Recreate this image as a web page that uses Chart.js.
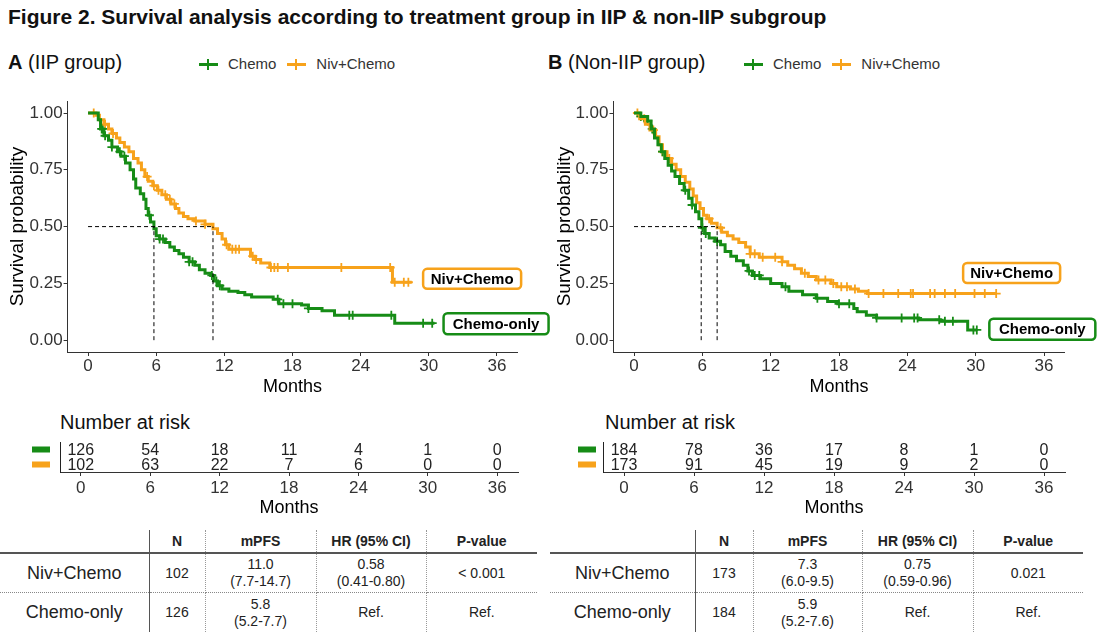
<!DOCTYPE html>
<html>
<head>
<meta charset="utf-8">
<script src="https://cdn.jsdelivr.net/npm/chart.js@4.4.1/dist/chart.umd.min.js"></script>
<style>
  body { margin: 0; width: 1100px; height: 636px; background: #fff; position: relative; overflow: hidden;
         font-family: "Liberation Sans", Arial, sans-serif; color: #111; }
  .abs { position: absolute; white-space: nowrap; }
  .fig-title { left: 8px; top: 4px; font-size: 21px; line-height: 26px; font-weight: bold; }
  .panel { font-size: 20px; line-height: 24px; }
  .legend { font-size: 15px; line-height: 18px; color: #333; }
  .key { display: inline-block; position: relative; width: 19px; height: 3px; vertical-align: middle; margin-right: 10px; top: -1px; }
  .key::after { content: ''; position: absolute; left: 8px; top: -4px; width: 2px; height: 11px; background: inherit; }
  .risk-title { font-size: 20px; line-height: 24px; }
  .box { position: absolute; }
  table { border-collapse: collapse; table-layout: fixed; position: absolute; color: #222; }
  td, th { text-align: center; padding: 0; font-size: 14px; line-height: 17px; }
  th { font-size: 14px; height: 22px; border-bottom: 2px solid #555; vertical-align: middle; }
  td.lab { font-size: 18px; }
  tr.r1 td { height: 38px; border-bottom: 1px dotted #888; }
  tr.r2 td { height: 39px; }
  .sep { border-right: 1.5px solid #555; }
  .dot { border-right: 1px dotted #999; }
</style>
</head>
<body>
<div class="abs fig-title">Figure 2. Survival analysis according to treatment group in IIP &amp; non-IIP subgroup</div>

<div class="abs panel" style="left:8px; top:50px;"><b>A</b> (IIP group)</div>
<div class="abs legend" style="left:199px; top:55px;"><span class="key" style="background:#168c16"></span>Chemo<span class="key" style="background:#f7a21b; margin-left:11px"></span>Niv+Chemo</div>
<div class="abs panel" style="left:548px; top:50px;"><b>B</b> (Non-IIP group)</div>
<div class="abs legend" style="left:744px; top:55px;"><span class="key" style="background:#168c16"></span>Chemo<span class="key" style="background:#f7a21b; margin-left:11px"></span>Niv+Chemo</div>

<div class="box" style="left:0; top:90px; width:550px; height:310px;"><canvas id="km-a"></canvas></div>
<div class="box" style="left:550px; top:90px; width:550px; height:310px;"><canvas id="km-b"></canvas></div>

<div class="abs risk-title" style="left:60px; top:410px;">Number at risk</div>
<div class="abs risk-title" style="left:605px; top:410px;">Number at risk</div>
<div class="box" style="left:0; top:436px; width:550px; height:84px;"><canvas id="risk-a"></canvas></div>
<div class="box" style="left:550px; top:436px; width:550px; height:84px;"><canvas id="risk-b"></canvas></div>

<table id="tab-a" style="left:0; top:530px; width:537px;"></table>
<table id="tab-b" style="left:550px; top:530px; width:533px;"></table>

<script>
const COLOR_CHEMO = '#168c16';
const COLOR_NIV = '#f7a21b';

const monthTicks = [0, 6, 12, 18, 24, 30, 36];
const survTicks = [0, 0.25, 0.5, 0.75, 1];

// IIP group, Chemo
const iipChemoTime = [0, 0.9, 1.1, 1.4, 1.8, 2.1, 2.6, 2.9, 3.3, 3.7, 4.0, 4.2, 4.6, 4.9, 5.1, 5.3, 5.5, 5.8, 6.0, 6.3, 6.8, 7.2, 7.6, 8.0, 8.4, 8.9, 9.4, 9.8, 10.3, 10.8, 11.1, 11.4, 11.8, 12.4, 13.2, 13.8, 14.4, 16.3, 16.8, 18.8, 19.4, 20.6, 21.7, 27.0, 30.5];
const iipChemoSurv = [1, 0.97, 0.93, 0.90, 0.88, 0.85, 0.83, 0.81, 0.78, 0.75, 0.71, 0.67, 0.645, 0.62, 0.58, 0.55, 0.52, 0.49, 0.46, 0.445, 0.43, 0.41, 0.395, 0.38, 0.365, 0.345, 0.33, 0.31, 0.295, 0.285, 0.26, 0.24, 0.225, 0.215, 0.21, 0.20, 0.19, 0.18, 0.16, 0.155, 0.14, 0.13, 0.11, 0.075, 0.075];
const iipChemoCensor = [1.2, 1.3, 1.5, 2.1, 2.8, 3.2, 5.4, 6.3, 6.6, 8.9, 9.2, 10.9, 11.3, 11.6, 16.7, 17.2, 18.0, 19.4, 23.0, 23.3, 26.7, 29.5, 30.3];
// IIP group, Niv+Chemo
const iipNivTime = [0, 0.7, 1.0, 1.4, 1.8, 2.1, 2.5, 2.8, 3.2, 3.6, 4.0, 4.4, 4.7, 5.0, 5.3, 5.7, 6.1, 6.5, 6.9, 7.3, 7.7, 8.0, 8.4, 8.8, 9.4, 10.3, 11.0, 11.4, 11.8, 12.1, 12.4, 14.3, 14.7, 15.2, 16.0, 26.8, 28.5];
const iipNivSurv = [1, 0.99, 0.97, 0.95, 0.93, 0.91, 0.89, 0.87, 0.85, 0.83, 0.80, 0.78, 0.75, 0.72, 0.70, 0.68, 0.66, 0.64, 0.62, 0.60, 0.58, 0.56, 0.545, 0.535, 0.525, 0.51, 0.49, 0.47, 0.445, 0.42, 0.40, 0.37, 0.355, 0.34, 0.32, 0.255, 0.255];
const iipNivCensor = [0.5, 1.5, 2.2, 5.2, 5.8, 6.2, 6.8, 7.2, 7.6, 9.5, 10.3, 12.2, 12.7, 13.0, 13.3, 14.5, 14.8, 16.1, 16.4, 16.7, 17.6, 22.3, 26.6, 27.0, 27.8, 28.2];
const iipMedians = [5.8, 11.0];
const iipRiskChemo = [126, 54, 18, 11, 4, 1, 0];
const iipRiskNiv = [102, 63, 22, 7, 6, 0, 0];

// Non-IIP group, Chemo
const nonChemoTime = [0, 0.6, 1.2, 1.5, 1.8, 2.1, 2.4, 2.7, 3.0, 3.3, 3.6, 4.0, 4.4, 4.8, 5.1, 5.4, 5.7, 5.95, 6.2, 6.6, 7.1, 7.6, 8.0, 8.5, 9.0, 9.6, 10.0, 10.4, 11.1, 12.0, 13.0, 13.6, 14.8, 16.0, 17.0, 17.9, 19.3, 19.6, 20.4, 21.3, 25.0, 26.9, 29.3, 30.1];
const nonChemoSurv = [1, 0.985, 0.965, 0.93, 0.89, 0.86, 0.83, 0.80, 0.77, 0.745, 0.72, 0.69, 0.66, 0.625, 0.595, 0.565, 0.535, 0.495, 0.47, 0.45, 0.435, 0.42, 0.39, 0.37, 0.35, 0.33, 0.305, 0.285, 0.27, 0.25, 0.235, 0.215, 0.20, 0.185, 0.17, 0.16, 0.14, 0.125, 0.11, 0.098, 0.09, 0.083, 0.045, 0.045];
const nonChemoCensor = [0.6, 1.2, 1.6, 2.5, 4.5, 5.1, 6.0, 6.3, 7.3, 10.1, 10.6, 11.0, 13.3, 16.1, 18.0, 18.9, 21.3, 23.5, 24.6, 24.9, 26.8, 27.3, 28.0, 29.8, 30.1];
// Non-IIP group, Niv+Chemo
const nonNivTime = [0, 0.5, 1.0, 1.4, 1.9, 2.2, 2.5, 2.9, 3.3, 3.7, 4.1, 4.5, 4.9, 5.2, 5.5, 5.8, 6.1, 6.4, 6.8, 7.3, 7.7, 8.2, 8.7, 9.2, 9.8, 10.2, 11.0, 13.0, 13.5, 14.1, 14.7, 15.3, 16.0, 17.3, 17.8, 19.0, 19.7, 20.5, 31.8];
const nonNivSurv = [1, 0.975, 0.95, 0.925, 0.895, 0.86, 0.83, 0.80, 0.775, 0.75, 0.72, 0.695, 0.665, 0.635, 0.605, 0.58, 0.55, 0.535, 0.515, 0.495, 0.475, 0.46, 0.445, 0.43, 0.41, 0.38, 0.365, 0.345, 0.33, 0.315, 0.295, 0.28, 0.265, 0.25, 0.235, 0.225, 0.215, 0.205, 0.205];
const nonNivCensor = [0.3, 0.9, 1.7, 2.5, 3.1, 6.6, 7.6, 10.2, 10.6, 11.3, 12.4, 13.0, 15.0, 16.2, 16.8, 17.5, 18.2, 18.7, 19.4, 20.6, 21.9, 23.2, 24.3, 24.5, 26.0, 26.4, 27.3, 28.2, 29.9, 30.8, 31.8];
const nonMedians = [5.9, 7.3];
const nonRiskChemo = [184, 78, 36, 17, 8, 1, 0];
const nonRiskNiv = [173, 91, 45, 19, 9, 2, 0];

// summary tables
const tableHeader = ['N', 'mPFS', 'HR (95% CI)', 'P-value'];
const tableGroups = ['Niv+Chemo', 'Chemo-only'];
const iipTable = [
  ['102', '11.0<br>(7.7-14.7)', '0.58<br>(0.41-0.80)', '&lt; 0.001'],
  ['126', '5.8<br>(5.2-7.7)', 'Ref.', 'Ref.']
];
const nonTable = [
  ['173', '7.3<br>(6.0-9.5)', '0.75<br>(0.59-0.96)', '0.021'],
  ['184', '5.9<br>(5.2-7.6)', 'Ref.', 'Ref.']
];

Chart.defaults.font.family = '"Liberation Sans", Arial, sans-serif';
Chart.defaults.color = '#333';
Chart.defaults.animation = false;

function survAt(times, surv, t) {
  let s = surv[0];
  for (let i = 0; i < times.length; i++) if (times[i] <= t) s = surv[i];
  return s;
}

function stepPoints(times, surv) {
  return times.map((t, i) => ({ x: t, y: surv[i] }));
}

function censorPoints(times, surv, cens) {
  return cens.map(t => ({ x: t, y: survAt(times, surv, t) }));
}

const curveLabels = {
  id: 'curveLabels',
  afterDraw(chart, args, opts) {
    const { ctx, scales: { x, y } } = chart;
    ctx.save();
    ctx.font = 'bold 15px "Liberation Sans", Arial, sans-serif';
    ctx.textAlign = 'center';
    ctx.textBaseline = 'middle';
    opts.items.forEach(it => {
      const left = x.getPixelForValue(it.x);
      const cy = y.getPixelForValue(it.y);
      ctx.beginPath();
      ctx.roundRect(left, cy - it.h / 2, it.w, it.h, 4);
      ctx.fillStyle = '#fff';
      ctx.fill();
      ctx.lineWidth = 2.5;
      ctx.strokeStyle = it.color;
      ctx.stroke();
      ctx.fillStyle = '#000';
      ctx.fillText(it.text, left + it.w / 2, cy + 1);
    });
    ctx.restore();
  }
};

function axisX(height, tickPad, titlePad) {
  return {
    type: 'linear', min: -1.8, max: 37.8,
    afterBuildTicks: s => { s.ticks = monthTicks.map(v => ({ value: v })); },
    afterFit: s => { s.height = height; },
    grid: { drawOnChartArea: false, tickLength: 4, color: '#333' },
    border: { color: '#333', width: 1 },
    ticks: { color: '#333', font: { size: 17 }, padding: tickPad, maxRotation: 0, autoSkip: false },
    title: { display: true, text: 'Months', color: '#000', font: { size: 18 }, padding: { top: 0, bottom: titlePad } }
  };
}

function makeKm(id, g, opt) {
  const dash = { borderColor: '#000', borderWidth: 1, borderDash: [4, 3], pointRadius: 0, fill: false };
  const mMax = Math.max(...g.medians);
  new Chart(document.getElementById(id), {
    type: 'line',
    data: {
      datasets: [
        { ...dash, data: [{ x: 0, y: 0.5 }, { x: mMax, y: 0.5 }] },
        { ...dash, data: [{ x: g.medians[0], y: 0 }, { x: g.medians[0], y: 0.5 }] },
        { ...dash, data: [{ x: g.medians[1], y: 0 }, { x: g.medians[1], y: 0.5 }] },
        { data: stepPoints(g.chemoT, g.chemoS), stepped: true, borderColor: COLOR_CHEMO, borderWidth: 3, pointRadius: 0, fill: false },
        { data: stepPoints(g.nivT, g.nivS), stepped: true, borderColor: COLOR_NIV, borderWidth: 3, pointRadius: 0, fill: false },
        { type: 'scatter', data: censorPoints(g.chemoT, g.chemoS, g.chemoC), pointStyle: 'cross', pointRadius: 4.5, borderWidth: 1.8, borderColor: COLOR_CHEMO },
        { type: 'scatter', data: censorPoints(g.nivT, g.nivS, g.nivC), pointStyle: 'cross', pointRadius: 4.5, borderWidth: 1.8, borderColor: COLOR_NIV }
      ]
    },
    options: {
      responsive: true, maintainAspectRatio: false,
      layout: { padding: { top: 8, right: opt.right, left: 0, bottom: 0 } },
      plugins: { legend: { display: false }, tooltip: { enabled: false }, curveLabels: { items: opt.labels } },
      scales: {
        x: axisX(48, 0, 2),
        y: {
          min: -0.052, max: 1.052,
          afterBuildTicks: s => { s.ticks = survTicks.map(v => ({ value: v })); },
          afterFit: s => { s.width = opt.yWidth; },
          grid: { drawOnChartArea: false, tickLength: 4, color: '#333' },
          border: { color: '#333', width: 1 },
          ticks: { color: '#333', font: { size: 17 }, padding: 1, callback: v => v.toFixed(2) },
          title: { display: true, text: 'Survival probability', color: '#000', font: { size: 19 }, padding: { top: opt.titleTop, bottom: 0 } }
        }
      }
    },
    plugins: [curveLabels]
  });
}

const riskText = {
  id: 'riskText',
  afterDraw(chart, args, opts) {
    const { ctx, chartArea, scales: { x, y } } = chart;
    ctx.save();
    ctx.font = '16px "Liberation Sans", Arial, sans-serif';
    ctx.textAlign = 'center';
    ctx.textBaseline = 'middle';
    opts.rows.forEach((row, i) => {
      const py = y.getPixelForValue(i);
      ctx.fillStyle = row.color;
      ctx.fillRect(chartArea.left - opts.keyOffset, py - 3, 18, 6);
      ctx.fillStyle = '#222';
      row.values.forEach((v, j) => ctx.fillText(String(v), x.getPixelForValue(monthTicks[j]), py + 1));
    });
    ctx.restore();
  }
};

function makeRisk(id, rows, opt) {
  new Chart(document.getElementById(id), {
    type: 'scatter',
    data: { datasets: [] },
    options: {
      responsive: true, maintainAspectRatio: false,
      layout: { padding: { top: 6, right: opt.right, left: opt.left, bottom: 0 } },
      plugins: { legend: { display: false }, tooltip: { enabled: false }, riskText: { rows, keyOffset: opt.keyOffset } },
      scales: {
        x: axisX(48, 2, 1),
        y: {
          type: 'category', labels: ['Chemo', 'Niv+Chemo'], offset: true,
          afterFit: s => { s.width = 0; },
          grid: { display: false },
          border: { color: '#222', width: 1 },
          ticks: { display: false }
        }
      }
    },
    plugins: [riskText]
  });
}

function makeTable(id, rows, widths) {
  const t = document.getElementById(id);
  const cls = ['sep', 'dot', 'dot', 'dot', ''];
  let html = '<colgroup>' + widths.map(w => `<col style="width:${w}px">`).join('') + '</colgroup>';
  html += '<tr><th class="sep"></th>' + tableHeader.map((h, i) => `<th class="${cls[i + 1]}">${h}</th>`).join('') + '</tr>';
  rows.forEach((r, k) => {
    html += `<tr class="r${k + 1}"><td class="lab sep">${tableGroups[k]}</td>` +
      r.map((c, i) => `<td class="${cls[i + 1]}">${c}</td>`).join('') + '</tr>';
  });
  t.innerHTML = html;
}

makeKm('km-a', {
  chemoT: iipChemoTime, chemoS: iipChemoSurv, chemoC: iipChemoCensor,
  nivT: iipNivTime, nivS: iipNivSurv, nivC: iipNivCensor, medians: iipMedians
}, {
  yWidth: 67.6, right: 32.6, titleTop: 6,
  labels: [
    { text: 'Niv+Chemo', color: COLOR_NIV, x: 29.5, y: 0.27, w: 98, h: 20 },
    { text: 'Chemo-only', color: COLOR_CHEMO, x: 31.3, y: 0.072, w: 105, h: 21 }
  ]
});

makeKm('km-b', {
  chemoT: nonChemoTime, chemoS: nonChemoSurv, chemoC: nonChemoCensor,
  nivT: nonNivTime, nivS: nonNivSurv, nivC: nonNivCensor, medians: nonMedians
}, {
  yWidth: 63.5, right: 35.5, titleTop: 3,
  labels: [
    { text: 'Niv+Chemo', color: COLOR_NIV, x: 28.9, y: 0.296, w: 97, h: 20 },
    { text: 'Chemo-only', color: COLOR_CHEMO, x: 31.2, y: 0.048, w: 106, h: 21 }
  ]
});

makeRisk('risk-a', [
  { color: COLOR_CHEMO, values: iipRiskChemo },
  { color: COLOR_NIV, values: iipRiskNiv }
], { left: 60, right: 32, keyOffset: 28 });

makeRisk('risk-b', [
  { color: COLOR_CHEMO, values: nonRiskChemo },
  { color: COLOR_NIV, values: nonRiskNiv }
], { left: 53, right: 35, keyOffset: 25 });

makeTable('tab-a', iipTable, [149, 56, 111, 110, 111]);
makeTable('tab-b', nonTable, [145, 58, 109, 111, 110]);
</script>
</body>
</html>
